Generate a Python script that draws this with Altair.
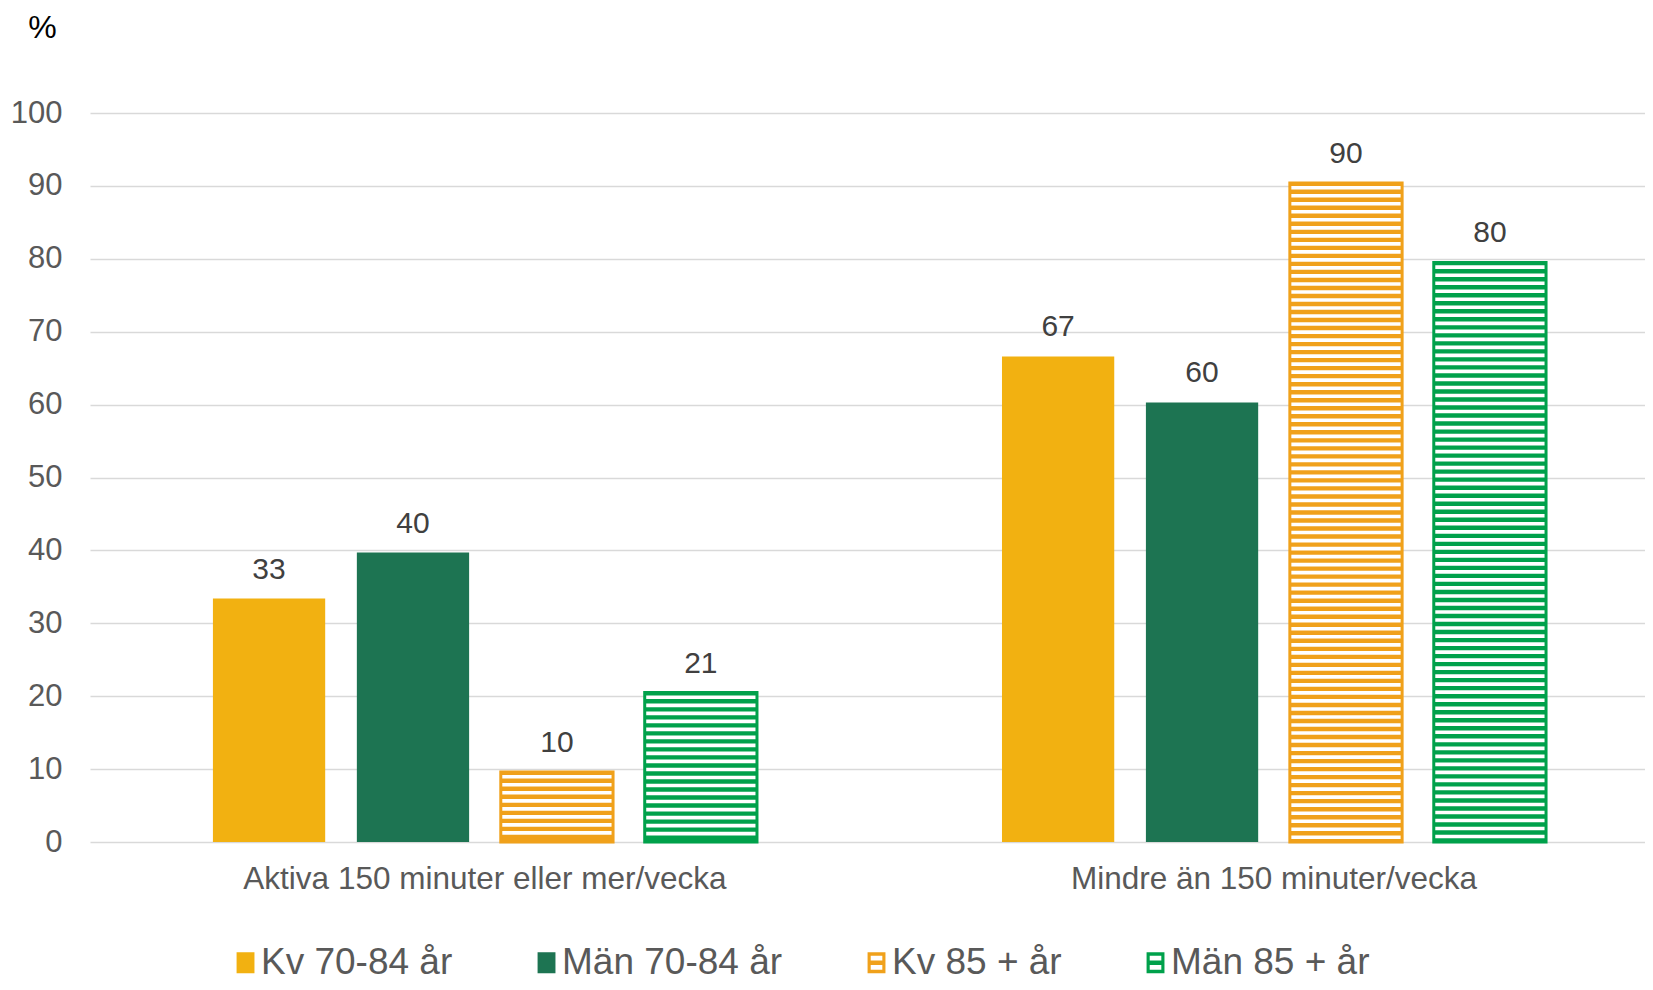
import altair as alt
import pandas as pd

groups = ["Aktiva 150 minuter eller mer/vecka", "Mindre än 150 minuter/vecka"]
series = ["Kv 70-84 år", "Män 70-84 år", "Kv 85 + år", "Män 85 + år"]
kv_70_84 = [33.4, 66.6]
man_70_84 = [39.7, 60.3]
kv_85 = [9.6, 90.4]
man_85 = [20.5, 79.5]
colors = ["#F2B111", "#1D7452", "#F0A11B", "#00A14B"]
hatched = ["Kv 85 + år", "Män 85 + år"]
y_ticks = list(range(0, 101, 10))

series_values = dict(zip(series, [kv_70_84, man_70_84, kv_85, man_85]))

rows = []
for s in series:
    for g, v in zip(groups, series_values[s]):
        rows.append({"group": g, "series": s, "value": v})
df = pd.DataFrame(rows)

# white gaps of the horizontal hatch, derived from the hatched bar values
period, gap, top_border = 1.1, 0.5, 0.4
stripes = []
for s in hatched:
    for g, v in zip(groups, series_values[s]):
        top = v - top_border
        while top - gap > 0.3:
            stripes.append({"group": g, "series": s, "y0": top - gap, "y1": top})
            top -= period
sdf = pd.DataFrame(stripes)

solid_path = "M-0.53,-0.94H1.07V0.94H-0.53Z"
hatch_path = ("M-0.53,-0.94H1.07V0.94H-0.53Z "
              "M-0.25,-0.62V-0.2H0.79V-0.62Z "
              "M-0.25,0.2V0.62H0.79V0.2Z")
shapes = [solid_path, solid_path, hatch_path, hatch_path]

legend = alt.Legend(
    title=None, orient="none", legendX=134, legendY=831, direction="horizontal",
    columnPadding=72, symbolSize=500, symbolStrokeWidth=0, labelFontSize=37,
    labelColor="#595959", labelOffset=0, labelLimit=400,
)

x_enc = alt.X("group:N",
              scale=alt.Scale(domain=groups, paddingInner=0.3105, paddingOuter=0.1406, align=0.554),
              axis=alt.Axis(title=None, labelAngle=0, domain=False, ticks=False, tickSize=0,
                            labelFontSize=31.5, labelColor="#595959", labelPadding=21,
                            labelLimit=900))
xo_enc = alt.XOffset("series:N", scale=alt.Scale(domain=series, paddingInner=0.22))
y_scale = alt.Scale(domain=[0, 100], nice=False)
y_axis = alt.Axis(values=y_ticks, grid=True, gridColor="#D9D9D9", gridWidth=1.5,
                  domain=False, ticks=False, tickSize=0, labelFontSize=31,
                  labelColor="#595959", labelPadding=28, title="%", titleAngle=0,
                  titleX=-48, titleY=-86, titleFontSize=32, titleFontWeight="normal",
                  titleColor="#000000", titleAlign="center", titleBaseline="middle")
color_enc = alt.Color("series:N", scale=alt.Scale(domain=series, range=colors), legend=legend)

base = alt.Chart(df)

bars = base.mark_bar().encode(
    x=x_enc, xOffset=xo_enc,
    y=alt.Y("value:Q", scale=y_scale, axis=y_axis),
    color=color_enc,
)

gaps = alt.Chart(sdf).mark_bar(color="white").encode(
    x=alt.X("group:N"), xOffset=xo_enc,
    y=alt.Y("y0:Q"), y2="y1:Q",
)

outlines = base.mark_bar(fillOpacity=0, strokeWidth=3).encode(
    x=alt.X("group:N"), xOffset=xo_enc,
    y=alt.Y("value:Q"),
    stroke=alt.Stroke("series:N", scale=alt.Scale(domain=series, range=colors), legend=None),
).transform_filter(alt.FieldOneOfPredicate(field="series", oneOf=hatched))

labels = base.mark_text(baseline="alphabetic", dy=-20, fontSize=30, color="#404040").encode(
    x=alt.X("group:N"), xOffset=xo_enc,
    y=alt.Y("value:Q"),
    text=alt.Text("value:Q", format=".0f"),
)

legend_pts = base.mark_point(filled=True, opacity=1).encode(
    x=alt.X("group:N"), xOffset=xo_enc,
    y=alt.Y("value:Q"),
    color=color_enc,
    shape=alt.Shape("series:N", scale=alt.Scale(domain=series, range=shapes), legend=legend),
).transform_filter("false")

chart = alt.layer(bars, gaps, outlines, labels, legend_pts).properties(
    width=1555, height=729,
    padding={"left": 82, "top": 105, "right": 0, "bottom": 140},
    autosize=alt.AutoSizeParams(type="none"),
).configure(font="Liberation Sans").configure_view(stroke=None)

chart.save("out.html", embed_options={"renderer": "svg", "actions": False})
